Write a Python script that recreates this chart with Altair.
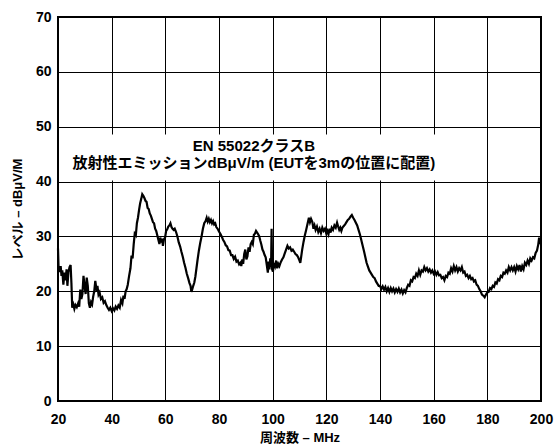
import altair as alt
import pandas as pd

# Radiated emission trace, frequency in MHz and level in dBuV/m
freq_mhz = [
    20.0, 20.2, 20.6, 21.0, 21.3, 21.6, 22.0, 22.4, 22.8, 23.2, 23.5, 23.9, 24.3, 24.7, 25.0,
    25.3, 25.7, 26.1, 26.5, 27.0, 27.5, 27.9, 28.3, 28.7, 29.1, 29.5, 29.9, 30.3, 30.7, 31.1,
    31.5, 31.9, 32.3, 32.7, 33.1, 33.5, 33.9, 34.3, 34.7, 35.1, 35.5, 36.0, 36.5, 37.0, 37.5,
    38.0, 38.5, 39.0, 39.5, 40.0, 40.5, 41.0, 41.5, 42.0, 42.5, 43.0, 43.5, 44.0, 44.4, 44.8,
    45.2, 45.6, 46.0, 46.5, 47.0, 47.4, 47.8, 48.2, 48.6, 49.0, 49.4, 49.8, 50.2, 50.6, 51.0,
    51.4, 51.8, 52.2, 52.6, 53.0, 53.4, 53.8, 54.2, 54.6, 55.0, 55.4, 55.8, 56.2, 56.6, 57.0,
    57.4, 57.8, 58.1, 58.4, 58.8, 59.1, 59.5, 59.9, 60.3, 60.7, 61.1, 61.5, 61.9, 62.3, 62.7,
    63.1, 63.5, 64.0, 64.5, 65.0, 65.5, 66.0, 66.5, 67.0, 67.5, 68.0, 68.5, 69.0, 69.4, 69.7,
    70.0, 70.4, 70.8, 71.2, 71.6, 72.0, 72.5, 73.0, 73.5, 74.0, 74.5, 75.0, 75.4, 75.8, 76.2,
    76.6, 77.0, 77.4, 77.8, 78.2, 78.6, 79.0, 79.5, 80.0, 80.5, 81.0, 81.5, 82.0, 82.5, 83.0,
    83.5, 84.0, 84.5, 85.0, 85.5, 86.0, 86.5, 87.0, 87.5, 88.0, 88.3, 88.7, 89.0, 89.4, 89.8,
    90.2, 90.6, 91.0, 91.4, 91.8, 92.2, 92.6, 93.0, 93.4, 93.8, 94.2, 94.6, 95.0, 95.4, 95.8,
    96.2, 96.6, 97.0, 97.4, 97.8, 98.2, 98.5, 98.8, 99.1, 99.4, 99.6, 99.8, 100.1, 100.5, 100.9,
    101.3, 101.7, 102.1, 102.5, 103.0, 103.5, 104.0, 104.5, 105.0, 105.5, 106.0, 106.5, 107.0, 107.5, 108.0,
    108.5, 109.0, 109.5, 110.0, 110.3, 110.6, 111.0, 111.5, 112.0, 112.5, 113.0, 113.5, 113.9, 114.3, 114.8,
    115.2, 115.6, 116.0, 116.5, 117.0, 117.5, 118.0, 118.5, 119.0, 119.5, 120.0, 120.4, 120.8, 121.2, 121.6,
    122.0, 122.5, 123.0, 123.5, 124.0, 124.4, 124.8, 125.2, 125.6, 126.0, 126.5, 127.0, 127.5, 128.0, 128.5,
    129.0, 129.5, 130.0, 130.5, 131.0, 131.5, 132.0, 132.5, 133.0, 133.5, 134.0, 134.5, 135.0, 135.5, 136.0,
    136.5, 137.0, 137.5, 138.0, 138.5, 139.0, 139.5, 140.0, 140.5, 141.0, 141.5, 142.0, 142.5, 143.0, 143.5,
    144.0, 144.5, 145.0, 145.5, 146.0, 146.5, 147.0, 147.5, 148.0, 148.5, 149.0, 149.5, 150.0, 150.5, 151.0,
    151.5, 152.0, 152.5, 153.0, 153.5, 154.0, 154.5, 155.0, 155.5, 156.0, 156.5, 157.0, 157.5, 158.0, 158.5,
    159.0, 159.5, 160.0, 160.5, 161.0, 161.5, 162.0, 162.5, 163.0, 163.5, 164.0, 164.5, 165.0, 165.5, 166.0,
    166.5, 167.0, 167.5, 168.0, 168.5, 169.0, 169.5, 170.0, 170.5, 171.0, 171.5, 172.0, 172.5, 173.0, 173.5,
    174.0, 174.5, 175.0, 175.5, 176.0, 176.5, 177.0, 177.5, 178.0, 178.5, 179.0, 179.5, 180.0, 180.5, 181.0,
    181.5, 182.0, 182.5, 183.0, 183.5, 184.0, 184.5, 185.0, 185.5, 186.0, 186.5, 187.0, 187.5, 188.0, 188.5,
    189.0, 189.5, 190.0, 190.5, 191.0, 191.5, 192.0, 192.5, 193.0, 193.5, 194.0, 194.5, 195.0, 195.5, 196.0,
    196.5, 197.0, 197.5, 198.0, 198.5, 199.0, 199.3, 199.6, 200.0,
]
level_dbuv = [
    27.8, 24.5, 23.5, 24.6, 22.8, 23.8, 21.2, 23.4, 22.0, 24.0, 21.0, 23.5, 24.4, 24.8, 21.5,
    17.0, 17.6, 16.8, 17.5, 17.1, 17.8, 17.2, 20.3, 18.6, 19.5, 22.8, 21.0, 19.5, 22.5, 21.0,
    17.8, 17.0, 18.0, 17.6, 19.0, 20.0, 21.9, 20.5, 21.0, 19.4, 19.8, 18.6, 18.9, 17.9, 18.2,
    17.5, 17.0, 16.6, 17.0, 16.4, 16.9, 16.5, 17.2, 16.8, 17.4, 17.0, 18.4, 17.8, 19.2, 18.6,
    20.0, 20.4, 21.2, 22.8, 24.2, 26.5, 26.0, 28.5, 30.5, 30.2, 32.4, 33.4, 34.8, 36.0, 36.8,
    37.7, 37.4, 37.0, 36.5, 36.3, 35.2, 35.0, 34.2, 33.8, 33.2, 32.6, 32.4, 31.4, 31.0, 30.2,
    29.4, 28.6, 29.8, 28.9, 29.6, 28.3, 29.5, 29.8, 31.0, 31.3, 31.8, 32.0, 32.4, 31.7, 31.4,
    31.2, 31.4, 30.8, 30.0, 28.9, 28.2, 27.2, 26.3, 25.2, 24.3, 23.2, 22.4, 21.5, 21.0, 19.9,
    20.3, 21.0, 21.6, 22.7, 24.2, 25.7, 27.4, 28.8, 30.0, 31.4, 32.4, 32.8, 33.4, 32.7, 33.2,
    32.6, 33.0, 32.4, 32.8, 32.2, 32.4, 31.7, 31.4, 30.9, 30.5, 30.0, 29.4, 29.0, 28.4, 28.2,
    27.5, 27.4, 26.6, 26.6, 25.9, 26.3, 25.4, 25.6, 24.9, 25.2, 24.6, 25.8, 25.0, 26.8, 27.6,
    25.8, 26.4, 28.0, 27.2, 28.6, 29.0, 28.6, 30.3, 30.5, 31.0, 30.7, 30.4, 30.0, 29.2, 28.5,
    27.6, 27.2, 26.6, 26.2, 24.8, 23.4, 25.4, 24.0, 26.0, 24.4, 31.4, 24.0, 23.6, 25.2, 24.6,
    25.6, 24.2, 25.0, 24.6, 25.3, 25.8, 26.2, 26.9, 27.6, 28.3, 27.8, 28.0, 27.4, 27.6, 27.2,
    26.8, 26.6, 26.2, 25.6, 25.2, 26.2, 27.6, 29.0, 30.2, 31.2, 32.3, 33.4, 32.6, 33.2, 32.6,
    31.4, 32.0, 31.2, 31.8, 30.8, 31.4, 30.6, 31.6, 31.0, 31.4, 30.5, 31.0, 30.4, 31.4, 30.7,
    31.6, 31.2, 32.0, 31.6, 32.5, 31.8, 31.2, 31.6, 31.0, 31.6, 31.9, 32.2, 32.6, 33.0, 33.2,
    33.6, 33.9, 33.4, 33.0, 32.5, 32.0, 31.2, 30.4, 29.4, 28.4, 27.4, 26.3, 25.2, 24.5, 23.8,
    23.4, 23.0, 22.6, 22.4, 21.8, 21.4, 21.0, 21.0, 20.4, 20.9, 20.3, 20.8, 20.0, 20.6, 19.9,
    20.6, 20.0, 20.5, 19.8, 20.4, 19.9, 20.5, 19.8, 20.3, 19.6, 20.2, 19.8, 20.6, 21.2, 21.0,
    22.0, 21.8, 22.6, 22.4, 23.2, 22.8, 23.8, 23.0, 23.8, 23.6, 24.4, 23.8, 24.2, 23.6, 24.0,
    23.4, 23.8, 23.2, 23.6, 23.0, 23.5, 22.9, 23.0, 22.4, 22.6, 22.0, 22.8, 22.6, 23.4, 23.2,
    24.2, 23.6, 24.6, 23.8, 24.4, 23.6, 24.2, 23.8, 24.4, 23.4, 23.6, 22.8, 23.0, 22.4, 22.8,
    22.2, 22.4, 21.8, 22.0, 21.2, 21.0, 20.4, 20.0, 19.4, 19.2, 18.9, 19.4, 19.8, 19.9, 20.6,
    20.4, 21.0, 20.8, 21.6, 21.4, 22.2, 22.0, 22.8, 22.6, 23.4, 23.2, 23.8, 23.4, 24.4, 23.8,
    24.4, 23.8, 24.4, 23.6, 24.6, 24.0, 24.8, 23.6, 24.6, 24.0, 25.2, 24.8, 25.6, 25.0, 26.0,
    25.6, 26.2, 26.0, 27.0, 27.4, 28.6, 29.8, 28.6, 29.6,
]

x_ticks = [20, 40, 60, 80, 100, 120, 140, 160, 180, 200]
y_ticks = [0, 10, 20, 30, 40, 50, 60, 70]
note_lines = ["EN 55022クラスB", "放射性エミッションdBμV/m (EUTを3mの位置に配置)"]

FONT = "Liberation Sans, Arial, Noto Sans CJK JP"

trace = pd.DataFrame({"freq": freq_mhz, "level": level_dbuv})

x_scale = alt.Scale(domain=[20, 200], nice=False, zero=False)
y_scale = alt.Scale(domain=[0, 70], nice=False, zero=False)

x_axis = alt.Axis(
    values=x_ticks, title="周波数 – MHz", grid=True, ticks=False, domain=False,
    labelFlush=False, labelPadding=11, labelFontSize=14, labelFontWeight="bold",
    labelColor="black", titleFontSize=13, titleFontWeight="bold", titleColor="black",
    titlePadding=5,
)
y_axis = alt.Axis(
    values=y_ticks, title="レベル – dBμV/M", grid=True, ticks=False, domain=False,
    labelFlush=False, labelPadding=7, labelFontSize=14, labelFontWeight="bold",
    labelColor="black", titleFontSize=13, titleFontWeight="bold", titleColor="black",
    titlePadding=11,
)

line = alt.Chart(trace).mark_line(color="black", strokeWidth=2.2, strokeJoin="miter").encode(
    x=alt.X("freq:Q", scale=x_scale, axis=x_axis),
    y=alt.Y("level:Q", scale=y_scale, axis=y_axis),
)

# white panel behind the annotation text
panel = alt.Chart(pd.DataFrame({"a": [0]})).mark_rect(color="white").encode(
    x=alt.datum(20.4, scale=x_scale),
    x2=alt.datum(169.5),
    y=alt.datum(40.2, scale=y_scale),
    y2=alt.datum(48.6),
)

note = alt.Chart(pd.DataFrame({"a": [0]})).mark_text(
    text=note_lines, font=FONT, fontSize=15, fontWeight="bold", color="black",
    align="center", baseline="middle", lineHeight=17,
).encode(
    x=alt.datum(93.0, scale=x_scale),
    y=alt.datum(46.5, scale=y_scale),
)

chart = alt.layer(panel, line, note).properties(
    width=483, height=384,
    autosize=alt.AutoSizeParams(type="none"),
    padding={"left": 58, "top": 17, "right": 15, "bottom": 45},
    background="white",
).configure(font=FONT).configure_view(
    stroke="black", strokeWidth=2,
).configure_axis(
    gridColor="black", gridWidth=1, gridOpacity=1, labelFont=FONT, titleFont=FONT,
)

chart.save("out.html", embed_options={"renderer": "svg", "actions": False})
